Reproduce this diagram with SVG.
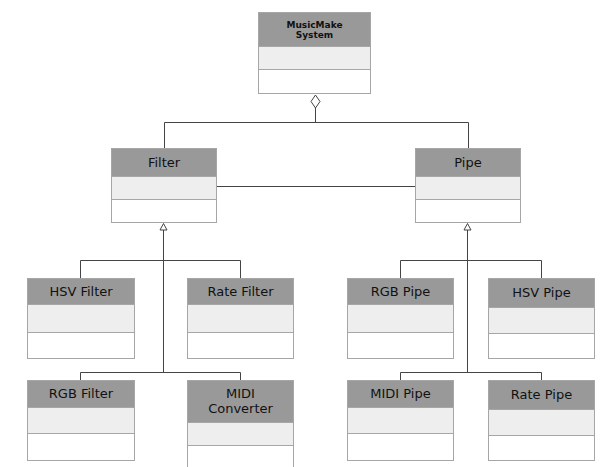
<svg xmlns="http://www.w3.org/2000/svg" width="606" height="467" viewBox="0 0 606 467">
<style>
.h{fill:#999999;stroke:#a6a6a6;stroke-width:1}
.m{fill:#eeeeee;stroke:#a6a6a6;stroke-width:1}
.b{fill:#ffffff;stroke:#a6a6a6;stroke-width:1}
.t{font-family:"DejaVu Sans",sans-serif;font-size:13px;fill:#111;text-anchor:middle}
.ts{font-family:"DejaVu Sans",sans-serif;font-size:9px;font-weight:bold;fill:#111;text-anchor:middle}
.c{fill:none;stroke:#444;stroke-width:1}
</style>
<rect width="606" height="467" fill="#ffffff"/>
<g id="connectors">
<path class="c" d="M315.5 108 V122.5 M164.5 122.5 H468.5 M164.5 122.5 V148 M468.5 122.5 V148"/>
<path d="M315.5 95 L320 101.5 L315.5 108 L311 101.5 Z" fill="#fff" stroke="#444"/>
<path class="c" d="M217 186.5 H415"/>
<path class="c" d="M163.5 230 V372.5 M80.5 260.5 H240.5 M80.5 260.5 V278 M240.5 260.5 V278 M80.5 372.5 H240.5 M80.5 372.5 V380 M240.5 372.5 V380"/>
<path d="M163.5 223.5 L167 230 L160 230 Z" fill="#fff" stroke="#444"/>
<path class="c" d="M467.5 230 V372.5 M400.5 260.5 H541.5 M400.5 260.5 V278 M541.5 260.5 V278 M400.5 372.5 H541.5 M400.5 372.5 V380 M541.5 372.5 V380"/>
<path d="M467.5 223.5 L471 230 L464 230 Z" fill="#fff" stroke="#444"/>
</g>
<g id="musicmake">
<rect class="h" x="258.5" y="12.5" width="112" height="34"/>
<rect class="m" x="258.5" y="46.5" width="112" height="23"/>
<rect class="b" x="258.5" y="69.5" width="112" height="24"/>
<text class="ts" x="314.5" y="28">MusicMake</text>
<text class="ts" x="314.5" y="38">System</text>
</g>
<g id="filter">
<rect class="h" x="111.5" y="148.5" width="105" height="28"/>
<rect class="m" x="111.5" y="176.5" width="105" height="23"/>
<rect class="b" x="111.5" y="199.5" width="105" height="23"/>
<text class="t" x="164" y="167">Filter</text>
</g>
<g id="pipe">
<rect class="h" x="415.5" y="148.5" width="105" height="28"/>
<rect class="m" x="415.5" y="176.5" width="105" height="23"/>
<rect class="b" x="415.5" y="199.5" width="105" height="23"/>
<text class="t" x="468" y="167">Pipe</text>
</g>
<g id="hsvfilter">
<rect class="h" x="27.5" y="278.5" width="107" height="26"/>
<rect class="m" x="27.5" y="304.5" width="107" height="28"/>
<rect class="b" x="27.5" y="332.5" width="107" height="26"/>
<text class="t" x="81" y="296">HSV Filter</text>
</g>
<g id="ratefilter">
<rect class="h" x="187.5" y="278.5" width="106" height="26"/>
<rect class="m" x="187.5" y="304.5" width="106" height="28"/>
<rect class="b" x="187.5" y="332.5" width="106" height="26"/>
<text class="t" x="240.5" y="296">Rate Filter</text>
</g>
<g id="rgbpipe">
<rect class="h" x="347.5" y="278.5" width="106" height="26"/>
<rect class="m" x="347.5" y="304.5" width="106" height="28"/>
<rect class="b" x="347.5" y="332.5" width="106" height="26"/>
<text class="t" x="400.5" y="296">RGB Pipe</text>
</g>
<g id="hsvpipe">
<rect class="h" x="488.5" y="278.5" width="106" height="29"/>
<rect class="m" x="488.5" y="307.5" width="106" height="26"/>
<rect class="b" x="488.5" y="333.5" width="106" height="25"/>
<text class="t" x="541.5" y="297">HSV Pipe</text>
</g>
<g id="rgbfilter">
<rect class="h" x="27.5" y="380.5" width="107" height="27"/>
<rect class="m" x="27.5" y="407.5" width="107" height="26"/>
<rect class="b" x="27.5" y="433.5" width="107" height="27"/>
<text class="t" x="81" y="398">RGB Filter</text>
</g>
<g id="midiconverter">
<rect class="h" x="187.5" y="380.5" width="106" height="42"/>
<rect class="m" x="187.5" y="422.5" width="106" height="23"/>
<rect class="b" x="187.5" y="445.5" width="106" height="30"/>
<text class="t" x="240.5" y="398">MIDI</text>
<text class="t" x="240.5" y="413">Converter</text>
</g>
<g id="midipipe">
<rect class="h" x="347.5" y="380.5" width="106" height="27"/>
<rect class="m" x="347.5" y="407.5" width="106" height="26"/>
<rect class="b" x="347.5" y="433.5" width="106" height="27"/>
<text class="t" x="400.5" y="398">MIDI Pipe</text>
</g>
<g id="ratepipe">
<rect class="h" x="488.5" y="380.5" width="106" height="29"/>
<rect class="m" x="488.5" y="409.5" width="106" height="26"/>
<rect class="b" x="488.5" y="435.5" width="106" height="25"/>
<text class="t" x="541.5" y="399">Rate Pipe</text>
</g>
</svg>
